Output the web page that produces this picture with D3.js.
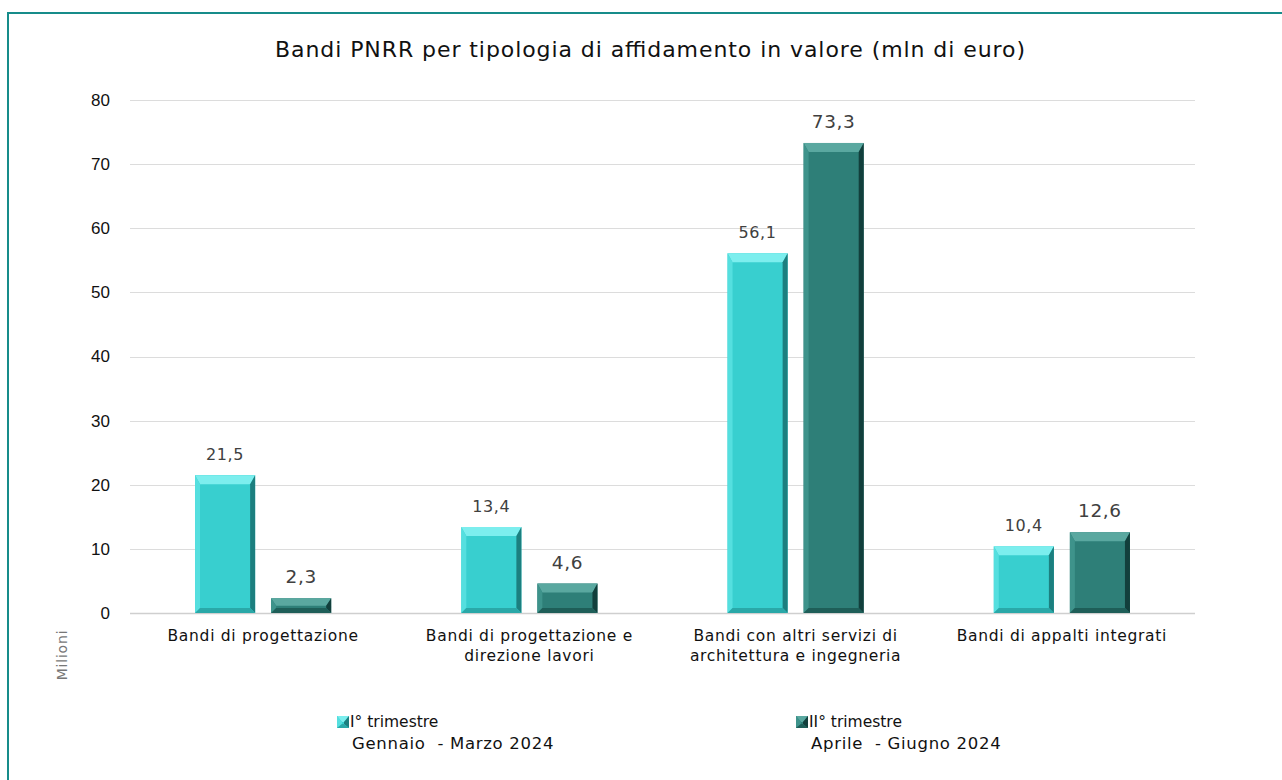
<!DOCTYPE html>
<html>
<head>
<meta charset="utf-8">
<script src="https://cdn.jsdelivr.net/npm/d3@7"></script>
<style>
  body { margin: 0; background: #fff; }
  svg { display: block; }
</style>
</head>
<body>
<script>
// chart values
var categories = [
  ['Bandi di progettazione'],
  ['Bandi di progettazione e', 'direzione lavori'],
  ['Bandi con altri servizi di', 'architettura e ingegneria'],
  ['Bandi di appalti integrati']
];
var seriesNames = ['I° trimestre', 'II° trimestre'];
var seriesPeriods = ['Gennaio  - Marzo 2024', 'Aprile  - Giugno 2024'];
var trim1 = [21.5, 13.4, 56.1, 10.4];
var trim2 = [2.3, 4.6, 73.3, 12.6];
var yTicks = [0, 10, 20, 30, 40, 50, 60, 70, 80];

var W = 1282, H = 780;
var font = "'DejaVu Sans', sans-serif";

// bevel palettes: face, top, left, right, bottom
var palettes = [
  {face: '#38CFCF', top: '#7CEEEE', left: '#55DFDF', right: '#1C7F7F', bottom: '#2AA8A8'},
  {face: '#2E7F78', top: '#5AA8A0', left: '#3E938B', right: '#123F3C', bottom: '#1E5E58'}
];

var svg = d3.select('body').append('svg')
  .attr('width', W)
  .attr('height', H);

svg.append('rect').attr('width', W).attr('height', H).attr('fill', 'white');

// frame (only top and left are visible)
svg.append('path')
  .attr('d', 'M8,' + H + ' L8,13 L' + W + ',13')
  .attr('fill', 'none')
  .attr('stroke', '#168C8A')
  .attr('stroke-width', 2);

svg.append('text')
  .attr('x', 650).attr('y', 57)
  .attr('text-anchor', 'middle')
  .attr('font-family', font)
  .attr('font-size', 22)
  .attr('fill', '#111')
  .attr('textLength', 750)
  .attr('lengthAdjust', 'spacing')
  .text('Bandi PNRR per tipologia di affidamento in valore (mln di euro)');

var y = d3.scaleLinear().domain([0, 80]).range([613, 100]);
var x0 = d3.scaleBand().domain(d3.range(categories.length)).range([130, 1195]).padding(0);
var x1 = d3.scaleBand().domain([0, 1]).range([0, x0.bandwidth()]).paddingInner(0.21).paddingOuter(0.855);

// gridlines
svg.append('g').selectAll('line')
  .data(yTicks)
  .enter().append('line')
  .attr('x1', 130).attr('x2', 1195)
  .attr('y1', function(d) { return Math.round(y(d)) + 0.5; })
  .attr('y2', function(d) { return Math.round(y(d)) + 0.5; })
  .attr('stroke', function(d) { return d === 0 ? '#cfcfcf' : '#dcdcdc'; })
  .attr('stroke-width', function(d) { return d === 0 ? 1.5 : 1; });

// y axis labels
var yAxis = d3.axisLeft(y).tickValues(yTicks).tickSize(0).tickPadding(0);
var gy = svg.append('g').attr('transform', 'translate(110,0)').call(yAxis);
gy.select('.domain').remove();
gy.selectAll('text')
  .attr('font-family', "'Liberation Sans', Arial, sans-serif")
  .attr('font-size', 17)
  .attr('fill', '#111');

svg.append('text')
  .attr('transform', 'translate(67,655) rotate(-90)')
  .attr('text-anchor', 'middle')
  .attr('font-family', font)
  .attr('font-size', 14)
  .attr('letter-spacing', 0.8)
  .attr('fill', '#777')
  .text('Milioni');

// bars with bevel
var bars = [];
categories.forEach(function(c, i) {
  bars.push({cat: i, s: 0, v: trim1[i]});
  bars.push({cat: i, s: 1, v: trim2[i]});
});

var drawBevel = function(g, x, yTop, w, h, p) {
  var bs = Math.min(5, w / 2, h / 2);
  var bt = Math.min(9, h / 2);
  var bb = Math.min(5, h / 3);
  var x2 = x + w, y2 = yTop + h;
  g.append('rect').attr('x', x).attr('y', yTop).attr('width', w).attr('height', h).attr('fill', p.face);
  var poly = function(pts, fill) {
    g.append('polygon').attr('points', pts.map(function(q) { return q.join(','); }).join(' ')).attr('fill', fill);
  };
  poly([[x, yTop], [x2, yTop], [x2 - bs, yTop + bt], [x + bs, yTop + bt]], p.top);
  poly([[x, yTop], [x + bs, yTop + bt], [x + bs, y2 - bb], [x, y2]], p.left);
  poly([[x2, yTop], [x2, y2], [x2 - bs, y2 - bb], [x2 - bs, yTop + bt]], p.right);
  poly([[x, y2], [x + bs, y2 - bb], [x2 - bs, y2 - bb], [x2, y2]], p.bottom);
};

var gBars = svg.append('g');
bars.forEach(function(d) {
  var bx = x0(d.cat) + x1(d.s);
  var top = y(d.v);
  drawBevel(gBars.append('g'), bx, top, x1.bandwidth(), y(0) - top, palettes[d.s]);
});

// value labels
svg.append('g').selectAll('text')
  .data(bars)
  .enter().append('text')
  .attr('x', function(d) { return x0(d.cat) + x1(d.s) + x1.bandwidth() / 2; })
  .attr('y', function(d) { return y(d.v) - 15; })
  .attr('text-anchor', 'middle')
  .attr('font-family', font)
  .attr('font-size', function(d) { return d.s === 0 ? 16 : 18.5; })
  .attr('letter-spacing', 0.6)
  .attr('fill', '#404040')
  .text(function(d) { return String(d.v).replace('.', ','); });

// category labels
var gCat = svg.append('g');
categories.forEach(function(lines, i) {
  var t = gCat.append('text')
    .attr('x', x0(i) + x0.bandwidth() / 2)
    .attr('y', 641)
    .attr('text-anchor', 'middle')
    .attr('font-family', font)
    .attr('font-size', 15.5)
    .attr('letter-spacing', 0.7)
    .attr('fill', '#111');
  lines.forEach(function(l, k) {
    t.append('tspan')
      .attr('x', x0(i) + x0.bandwidth() / 2)
      .attr('dy', k === 0 ? 0 : 20)
      .text(l);
  });
});

// legend
var legendX = [337, 796];
seriesNames.forEach(function(name, i) {
  var g = svg.append('g').attr('transform', 'translate(' + legendX[i] + ',716)');
  drawBevel(g, 0, 0, 12, 12, palettes[i]);
  g.append('text')
    .attr('x', 13).attr('y', 11)
    .attr('font-family', font)
    .attr('font-size', 15.5)
    .attr('fill', '#111')
    .text(name);
  g.append('text')
    .attr('x', 15).attr('y', 33)
    .attr('font-family', font)
    .attr('font-size', 16.5)
    .attr('letter-spacing', 0.7)
    .attr('fill', '#111')
    .style('white-space', 'pre')
    .text(seriesPeriods[i]);
});
</script>
</body>
</html>
